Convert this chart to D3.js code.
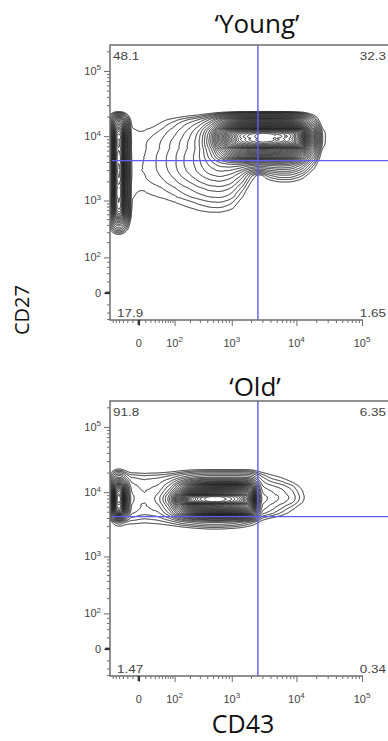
<!DOCTYPE html>
<html>
<head>
<meta charset="utf-8">
<script src="https://cdn.jsdelivr.net/npm/d3@7"></script>
<style>
  body { margin: 0; background: #fff; }
  svg { display: block; }
</style>
</head>
<body>
<div id="chart"></div>
<script>
// CD43 value at the centre of each density column
const cd43Bins = [-41, -15, 1, 19, 44, 79, 129, 199, 300, 443, 646, 934, 1340, 1920, 2750, 3920, 5590, 7960, 11300, 16100, 22900];
// CD27 value at the centre of each density row (top row first)
const cd27Bins = [22500, 15800, 11100, 7800, 5400, 3800, 2700, 1900, 1300, 890, 620, 420, 280];

// relative event counts
const youngDensity = [
  [0.5, 0, 0, 0, 0, 0, 0, 0, 0, 0, 0, 0, 0, 0, 0, 0, 0, 0, 0, 0, 0],
  [30, 0.8, 0.3, 0.5, 0.9, 1.5, 2.3, 3.5, 5, 9, 18, 30, 40, 44, 46, 46, 45, 40, 28, 7, 0.3],
  [55, 1.2, 1.0, 1.3, 1.7, 2.5, 3.6, 5.5, 9, 20, 45, 70, 88, 95, 100, 100, 97, 92, 75, 30, 2],
  [60, 1.2, 1.3, 1.7, 2.2, 3.2, 4.5, 6.5, 10, 22, 45, 68, 85, 92, 97, 97, 93, 88, 72, 28, 2],
  [60, 1.2, 1.4, 1.8, 2.4, 3.5, 5, 7, 10, 17, 30, 44, 54, 56, 57, 57, 55, 50, 36, 10, 0.5],
  [60, 1.2, 1.4, 1.8, 2.4, 3.5, 5, 7, 9.5, 13, 16, 17, 17, 15, 13, 14, 15, 14, 9, 2.5, 0],
  [60, 1.2, 1.4, 1.7, 2.2, 3.1, 4.4, 6, 8, 10, 11, 10, 7, 2, 0.3, 2.5, 3.5, 3.5, 2.2, 0.5, 0],
  [60, 1.2, 1.3, 1.5, 1.8, 2.4, 3.3, 4.4, 5.8, 7, 7.5, 6.5, 3.5, 0.8, 0, 0.3, 0.5, 0.5, 0.3, 0, 0],
  [60, 1.2, 0.8, 1.0, 1.2, 1.5, 2.0, 2.7, 3.4, 4, 4.2, 3.5, 1.5, 0.2, 0, 0, 0, 0, 0, 0, 0],
  [55, 1.0, 0.2, 0.3, 0.5, 0.7, 0.9, 1.2, 1.6, 1.9, 2, 1.6, 0.6, 0, 0, 0, 0, 0, 0, 0, 0],
  [45, 0.8, 0, 0, 0.1, 0.2, 0.3, 0.4, 0.6, 0.7, 0.7, 0.5, 0.1, 0, 0, 0, 0, 0, 0, 0, 0],
  [12, 0.4, 0, 0, 0, 0, 0, 0, 0, 0, 0, 0, 0, 0, 0, 0, 0, 0, 0, 0, 0],
  [0.5, 0, 0, 0, 0, 0, 0, 0, 0, 0, 0, 0, 0, 0, 0, 0, 0, 0, 0, 0, 0]
];
const oldDensity = [
  [0.3, 0, 0, 0, 0, 0, 0, 0, 0, 0, 0, 0, 0, 0, 0, 0, 0, 0, 0, 0, 0],
  [10, 2.5, 2.2, 2.2, 2.4, 3, 4.5, 6.5, 8, 8.5, 8.5, 8.5, 8.5, 8, 3, 1.5, 1, 0.5, 0, 0, 0],
  [50, 4, 3, 3, 3.5, 7, 18, 36, 48, 55, 58, 57, 54, 42, 5, 4, 3.2, 2.2, 1, 0.2, 0],
  [65, 5, 3.2, 3.5, 5.5, 14, 45, 82, 94, 100, 99, 93, 84, 64, 7, 5.5, 4.2, 3, 1.4, 0.2, 0],
  [55, 4, 3, 3, 3.5, 7.5, 22, 40, 53, 60, 62, 60, 55, 42, 5, 3.5, 2, 1, 0.3, 0, 0],
  [3, 1.5, 1.3, 1.3, 1.5, 2, 3, 4, 5, 5.5, 5.5, 5, 4, 2.5, 0.8, 0.3, 0.1, 0, 0, 0, 0],
  [0, 0, 0, 0, 0, 0, 0, 0.1, 0.2, 0.3, 0.3, 0.2, 0.1, 0, 0, 0, 0, 0, 0, 0, 0]
];

// quadrant frequencies: upper-left, upper-right, lower-left, lower-right
const youngQuadrants = ["48.1", "32.3", "17.9", "1.65"];
const oldQuadrants = ["91.8", "6.35", "1.47", "0.34"];

// quadrant gate
const gateCD43 = 2560;
const gateCD27 = 4200;

// contour levels as a fraction of the peak density
const contourLevels = [0.009, 0.015, 0.022, 0.032, 0.045, 0.06, 0.08, 0.1, 0.125, 0.15, 0.18,
  0.21, 0.24, 0.27, 0.3, 0.33, 0.36, 0.39, 0.42, 0.45, 0.48, 0.51, 0.54, 0.57, 0.6, 0.63,
  0.66, 0.69, 0.72, 0.75, 0.78, 0.81, 0.84, 0.87, 0.9, 0.93, 0.96];

const tickValues = [0, 1e2, 1e3, 1e4, 1e5];
const tickLabels = ["0", "10^2", "10^3", "10^4", "10^5"];

// minor ticks
const logMinor = [];
[100, 1000, 10000].forEach(d => d3.range(2, 10).forEach(k => logMinor.push(k * d)));
const xMinor = [-60, -50, -40, -30, -20, -10, 10, 20, 30, 40, 50, 60, 70, 80, 90].concat(logMinor);
const yMinor = [-60, -40, -20, 20, 40, 60, 80].concat(logMinor, [2e5]);

const plotW = 279, plotH = 275, axisW = 252;
const axisColor = "#6e6e6e";

const svg = d3.select("#chart")
    .append("svg")
    .attr("width", 388)
    .attr("height", 741)
    .style("font-family", "'Liberation Sans', Arial, sans-serif");

const x = d3.scaleSymlog().constant(40).domain([-70, 1e5]).range([0, axisW]);
const y = d3.scaleSymlog().constant(40).domain([-64, 2.5e5]).range([plotH, 0]);

function powerLabel(sel, label) {
    const [base, exp] = label.split("^");
    sel.append("tspan").text(base);
    if (exp) sel.append("tspan").attr("dy", -4.5).attr("font-size", "8px").text(exp);
}

const panels = [
    {title: "\u2018Young\u2019", density: youngDensity, quads: youngQuadrants, top: 45, titleX: 257, titleY: -12.5},
    {title: "\u2018Old\u2019", density: oldDensity, quads: oldQuadrants, top: 401, titleX: 255, titleY: -5}
];

panels.forEach((p, i) => {
    const g = svg.append("g").attr("transform", `translate(110,${p.top})`);

    g.append("clipPath").attr("id", "clip" + i)
        .append("rect").attr("width", plotW).attr("height", plotH);

    // weighted grid points -> smoothed density contours
    const pts = [];
    p.density.forEach((row, r) => row.forEach((w, c) => {
        if (w > 0) pts.push({x: x(cd43Bins[c]), y: y(cd27Bins[r]), w: w});
    }));
    const dens = d3.contourDensity()
        .x(d => d.x).y(d => d.y).weight(d => d.w)
        .size([plotW, plotH]).cellSize(1).bandwidth(4.5);
    let rings;
    if (dens.contours) {
        const cf = dens.contours(pts);
        rings = contourLevels.map(f => cf(f * cf.max));
    } else {
        const probe = dens.thresholds(400)(pts);
        const mx = probe[probe.length - 1].value;
        rings = dens.thresholds(contourLevels.map(f => f * mx))(pts);
    }
    g.append("g")
        .attr("clip-path", `url(#clip${i})`)
        .selectAll("path")
        .data(rings)
        .join("path")
        .attr("d", d3.geoPath())
        .attr("fill", "none")
        .attr("stroke", "#111")
        .attr("stroke-width", 0.9);

    // quadrant gate
    g.append("line")
        .attr("x1", x(gateCD43)).attr("x2", x(gateCD43))
        .attr("y1", 0).attr("y2", plotH)
        .attr("stroke", "#5c5cf2").attr("stroke-width", 1.4);
    g.append("line")
        .attr("x1", 2).attr("x2", plotW)
        .attr("y1", y(gateCD27)).attr("y2", y(gateCD27))
        .attr("stroke", "#5c5cf2").attr("stroke-width", 1.4);

    // frame
    g.append("path")
        .attr("d", `M${plotW},0H0V${plotH}H${axisW + 1}`)
        .attr("fill", "none").attr("stroke", axisColor).attr("stroke-width", 1.5);

    // axes ticks
    const xa = g.append("g").attr("transform", `translate(0,${plotH})`);
    xa.append("g").call(d3.axisBottom(x).tickValues(xMinor).tickSize(3).tickFormat(""))
        .call(s => s.select(".domain").remove());
    xa.append("g").call(d3.axisBottom(x).tickValues(tickValues).tickSize(6).tickFormat(""))
        .call(s => s.select(".domain").remove());
    const ya = g.append("g");
    ya.append("g").call(d3.axisLeft(y).tickValues(yMinor).tickSize(3).tickFormat(""))
        .call(s => s.select(".domain").remove());
    ya.append("g").call(d3.axisLeft(y).tickValues(tickValues).tickSize(6).tickFormat(""))
        .call(s => s.select(".domain").remove());
    g.selectAll(".tick line").attr("stroke", axisColor);
    // the zero ticks are drawn heavier
    g.append("line").attr("x1", x(0)).attr("x2", x(0)).attr("y1", plotH).attr("y2", plotH + 5)
        .attr("stroke", "#333").attr("stroke-width", 2.5);
    g.append("line").attr("x1", 0).attr("x2", -5).attr("y1", y(0)).attr("y2", y(0))
        .attr("stroke", "#333").attr("stroke-width", 2.5);

    // tick labels
    tickValues.forEach((v, k) => {
        g.append("text")
            .attr("x", x(v)).attr("y", plotH + 26.5)
            .attr("text-anchor", "middle")
            .attr("font-size", "11px").attr("fill", "#444")
            .call(s => powerLabel(s, tickLabels[k]));
        g.append("text")
            .attr("x", -9).attr("y", y(v) + 4)
            .attr("text-anchor", "end")
            .attr("font-size", "11px").attr("fill", "#444")
            .call(s => powerLabel(s, tickLabels[k]));
    });

    // quadrant frequencies
    const qPos = [[3, 15, "start"], [276, 15, "end"], [7, plotH - 3, "start"], [276, plotH - 3, "end"]];
    p.quads.forEach((q, k) => {
        g.append("text")
            .attr("transform", `translate(${qPos[k][0]},${qPos[k][1]}) scale(1.35,1)`)
            .attr("text-anchor", qPos[k][2])
            .attr("font-size", "10px").attr("fill", "#444")
            .text(q);
    });

    // panel title
    svg.append("text")
        .attr("x", p.titleX).attr("y", p.top + p.titleY)
        .attr("text-anchor", "middle")
        .style("font-family", "'Open Sans', sans-serif")
        .attr("font-size", "26px").attr("fill", "#111")
        .text(p.title);
});

// axis titles
svg.append("text")
    .attr("transform", "translate(29,310) rotate(-90)")
    .attr("text-anchor", "middle")
    .style("font-family", "'Open Sans', sans-serif")
    .attr("font-size", "20px").attr("fill", "#111")
    .text("CD27");
svg.append("text")
    .attr("x", 243).attr("y", 733)
    .attr("text-anchor", "middle")
    .style("font-family", "'Open Sans', sans-serif")
    .attr("font-size", "25px").attr("fill", "#111")
    .text("CD43");
</script>
</body>
</html>
